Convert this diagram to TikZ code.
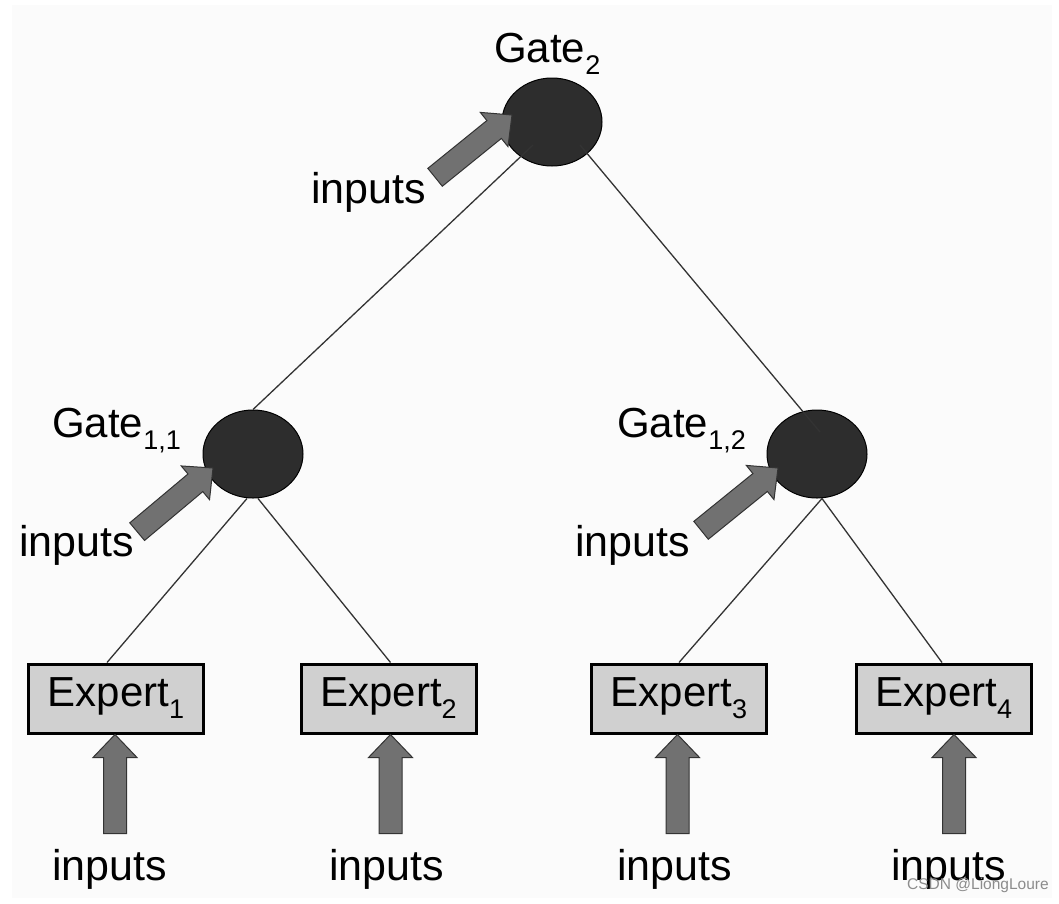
\documentclass[tikz,border=0pt]{standalone}
\usepackage{fontspec}
\setmainfont{Liberation Sans}
\usetikzlibrary{shapes.geometric,calc}
\newcommand{\lsub}[1]{\raisebox{-12pt}{\fontsize{27}{27}\selectfont #1}}
\definecolor{gatefill}{HTML}{2D2D2D}
\definecolor{boxfill}{HTML}{D0D0D0}
\definecolor{arrowfill}{HTML}{717171}
\definecolor{bgfill}{HTML}{FBFBFB}

\begin{document}
\begin{tikzpicture}[x=1pt,y=-1pt,
		gate/.style={ellipse,draw=black,line width=1pt,fill=gatefill,minimum width=100pt,minimum height=88pt,inner sep=0pt},
		expert/.style={draw=black,line width=3pt,fill=boxfill,minimum width=175pt,minimum height=69pt,inner sep=0pt,font=\fontsize{42}{42}\selectfont},
		lab/.style={anchor=base west,inner sep=0pt,font=\fontsize{42}{42}\selectfont},
		inp/.style={anchor=base west,inner sep=0pt,font=\fontsize{43}{43}\selectfont},
		link/.style={draw=black!80,line width=1.3pt},
		fatarrow/.pic={\draw[fill=arrowfill,draw=black!80,line width=1pt] (0,0) -- (-23,22) -- (-23,11.5) -- (-99,11.5) -- (-99,-11.5) -- (-23,-11.5) -- (-23,-22) -- cycle;}]
		
		\useasboundingbox (0,0) rectangle (1059,903);
		\fill[bgfill] (12,5) rectangle (1052,898);
		
		\node[gate] (g2) at (552,122) {};
		\node[gate] (g11) at (253,454) {};
		\node[gate] (g12) at (817,454) {};
		
		\node[expert] (e1) at (116,698.5) {Expert\lsub{1}};
		\node[expert] (e2) at (388.5,698.5) {Expert\lsub{2}};
		\node[expert] (e3) at (679,698.5) {Expert\lsub{3}};
		\node[expert] (e4) at (944,698.5) {Expert\lsub{4}};
		
		\draw[link] ($(g2)+(-19,23)$) -- (g11.north);
		\draw[link] ($(g2)+(28,23)$) -- ($(g12)+(3,-22)$);
		\draw[link] ($(g11.south)+(-6,0)$) -- ($(e1.north)+(-9,0)$);
		\draw[link] ($(g11.south)+(5,0)$) -- ($(e2.north)+(2,0)$);
		\draw[link] ($(g12.south)+(5,0)$) -- (e3.north);
		\draw[link] ($(g12.south)+(5,0)$) -- ($(e4.north)+(-2,0)$);
		
		\pic[rotate=39] at ($(g2)+(-40,-7)$) {fatarrow};
		\pic[rotate=40] at ($(g11)+(-40,14)$) {fatarrow};
		\pic[rotate=39] at ($(g12)+(-39,14)$) {fatarrow};
		\foreach \e/\dx in {e1/-1,e2/2,e3/-1.5,e4/10}
		\pic[rotate=90] at ($(\e.south)+(\dx,0)$) {fatarrow};
		
		\node[lab] (l2) at (494,62) {Gate\lsub{2}};
		\node[lab] (l11) at (52,437) {Gate\lsub{1,1}};
		\node[lab] (l12) at (617,437) {Gate\lsub{1,2}};
		
		\node[inp] (i2) at (311,203) {inputs};
		\node[inp] (i11) at (19,556) {inputs};
		\node[inp] (i12) at (575,556) {inputs};
		\node[inp] (i1) at (52,880) {inputs};
		\node[inp] (i2b) at (329,880) {inputs};
		\node[inp] (i3) at (617,880) {inputs};
		\node[inp] (i4) at (891,880) {inputs};
		
		\node[anchor=base west,inner sep=0pt,text=black!45,font=\fontsize{15.5}{15.5}\selectfont] (wm) at (907,889) {CSDN @LiongLoure};
		
\end{tikzpicture}
\end{document}
